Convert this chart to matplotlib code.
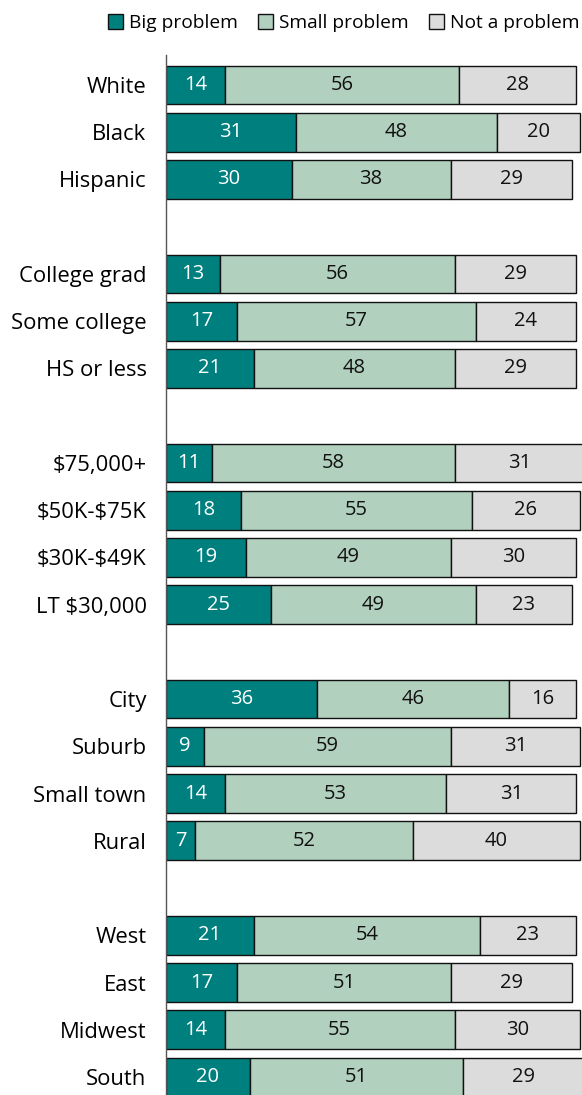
import matplotlib
matplotlib.use("Agg")
import matplotlib.pyplot as plt
from matplotlib.patches import Patch

plt.rcParams['font.family'] = ['Open Sans', 'DejaVu Sans']

categories = ["White", "Black", "Hispanic", "",
              "College grad", "Some college", "HS or less", "",
              "\\$75,000+", "\\$50K-\\$75K", "\\$30K-\\$49K", "LT \\$30,000", "",
              "City", "Suburb", "Small town", "Rural", "",
              "West", "East", "Midwest", "South"]
big = [14, 31, 30, None, 13, 17, 21, None, 11, 18, 19, 25, None, 36, 9, 14, 7, None, 21, 17, 14, 20]
small = [56, 48, 38, None, 56, 57, 48, None, 58, 55, 49, 49, None, 46, 59, 53, 52, None, 54, 51, 55, 51]
notp = [28, 20, 29, None, 29, 24, 29, None, 31, 26, 30, 23, None, 16, 31, 31, 40, None, 23, 29, 30, 29]
series_names = ["Big problem", "Small problem", "Not a problem"]
colors = ["#007F7F", "#B2D0BE", "#DCDCDC"]
text_colors = ["white", "#111111", "#111111"]

W, H = 582, 1095
fig = plt.figure(figsize=(W / 100, H / 100), dpi=100)
ax = fig.add_axes([166 / W, 0, 1 - 166 / W, (H - 55) / H])

slot = 47.24
y_top = (55 - 85) / slot
y_bot = (H - 85) / slot
ax.set_ylim(y_bot, y_top)
ax.set_xlim(0, (W - 166) / 4.185)

for i, cat in enumerate(categories):
    if big[i] is None:
        continue
    left = 0
    for vals, col, tc in zip([big, small, notp], colors, text_colors):
        v = vals[i]
        ax.barh(i, v, left=left, height=0.82, color=col, edgecolor="#111111", linewidth=1.0)
        ax.text(left + v / 2, i, str(v), ha="center", va="center", color=tc, fontsize=14.5)
        left += v

ax.set_yticks([i for i, c in enumerate(categories) if c])
ax.set_yticklabels([c for c in categories if c], fontsize=15.8)
ax.tick_params(axis="y", length=0, pad=14)
ax.set_xticks([])
for s in ["top", "right", "bottom"]:
    ax.spines[s].set_visible(False)
ax.spines["left"].set_color("#555555")
ax.spines["left"].set_linewidth(1.0)

handles = [Patch(facecolor=c, edgecolor="#111111", linewidth=1.0) for c in colors]
fig.legend(handles, series_names, loc="upper right", bbox_to_anchor=(1.025, 1.003), ncol=3,
           frameon=False, fontsize=13.8, handlelength=0.8, handleheight=0.8,
           handletextpad=0.3, columnspacing=1.05)

fig.savefig("out.png", dpi=100)
